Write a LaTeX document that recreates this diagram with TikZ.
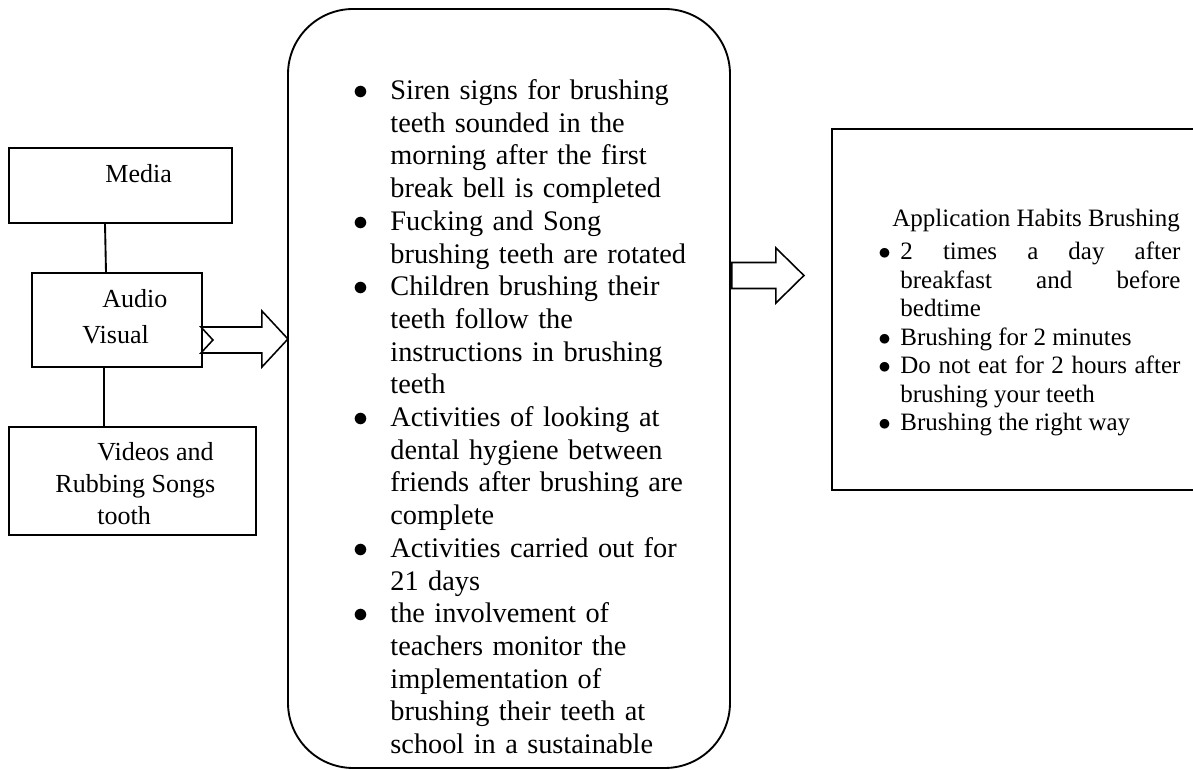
\documentclass[tikz,border=0pt]{standalone}
\usepackage{fontspec}
\setmainfont{Liberation Serif}
\usetikzlibrary{positioning,calc}
\newlength\upx
\setlength\upx{0.01687cm}
\newcommand{\bpt}[1]{\par\noindent\hangindent=#1\hangafter=1\makebox[#1][l]{$\bullet$}}

\begin{document}
\begin{tikzpicture}[
    x=\upx, y=-\upx,
    box/.style={
        draw=black,
        line width=0.9pt,
        inner sep=0pt
    },
    roundbox/.style={
        draw=black,
        line width=0.9pt,
        rounded corners=1.1cm,
        inner sep=0pt
    },
    lbl/.style={
        inner sep=0pt,
        anchor=north west,
        align=left
    },
    link/.style={draw=black, line width=0.9pt},
    blockarr/.style={draw=black, line width=0.75pt, fill=white, line join=miter}
]
\clip (0,0) rectangle (1193,770);

% media column
\node[box, minimum width=223*\upx, minimum height=75*\upx] (media) at (120.5,185.5) {};
\node[box, minimum width=170*\upx, minimum height=94*\upx] (av) at (117,320) {};
\node[box, minimum width=247*\upx, minimum height=108*\upx] (vid) at (132.5,481) {};

\node[lbl, font=\fontsize{12.5}{15}\selectfont] (medialbl) at (105,164) {Media};
\node[lbl, font=\fontsize{12.5}{17.3}\selectfont] (avlbl) at (82,289)
{\hspace*{20\upx}Audio\\Visual};
\node[lbl, font=\fontsize{12.5}{15.4}\selectfont] (vidlbl) at (55,442)
{\hspace*{42\upx}Videos and\\Rubbing Songs\\\hspace*{42\upx}tooth};

\draw[link] ($(media.south)+(-15.5,0)$) -- ($(av.north)+(-11,0)$);
\draw[link] ($(av.south)+(-13,0)$) -- ($(vid.north)+(-28.5,0)$);

% activities
\node[roundbox, minimum width=442*\upx, minimum height=759*\upx] (steps) at (509,388.5) {};
\node[lbl, text width=360*\upx, font=\fontsize{13.6}{15.7}\selectfont] (stepslbl) at (353,66.5)
{\bpt{37\upx}Siren signs for brushing\newline teeth sounded in the\newline morning after the first\newline break bell is completed
 \bpt{37\upx}Fucking and Song\newline brushing teeth are rotated
 \bpt{37\upx}Children brushing their\newline teeth follow the\newline instructions in brushing\newline teeth
 \bpt{37\upx}Activities of looking at\newline dental hygiene between\newline friends after brushing are\newline complete
 \bpt{37\upx}Activities carried out for\newline 21 days
 \bpt{37\upx}the involvement of\newline teachers monitor the\newline implementation of\newline brushing their teeth at\newline school in a sustainable\par};

% habits
\node[box, minimum width=380*\upx, minimum height=361*\upx] (habit) at (1022,309.5) {};
\node[lbl, text width=302*\upx, align=justify, font=\fontsize{12}{13.68}\selectfont] (habitlbl) at (878,209)
{\hspace*{14\upx}Application Habits Brushing\par\vspace{4.5\upx}
 \bpt{22\upx}2 times a day after\linebreak breakfast and before\linebreak bedtime
 \bpt{22\upx}Brushing for 2 minutes
 \bpt{22\upx}Do not eat for 2 hours after\linebreak brushing your teeth
 \bpt{22\upx}Brushing the right way\par};

% block arrows
\draw[blockarr] ($(av.east)+(-2,7)$) -- ++(61,0) -- ++(0,-16) -- ++(26,28) -- ++(-26,28)
    -- ++(0,-14) -- ++(-61,0) -- ++(12,-13) -- cycle;
\draw[blockarr] ($(steps.east)+(1,-126)$) -- ++(44,0) -- ++(0,-14.5) -- ++(28,27.5)
    -- ++(-28,27.5) -- ++(0,-14.5) -- ++(-44,0) -- cycle;

\end{tikzpicture}
\end{document}
